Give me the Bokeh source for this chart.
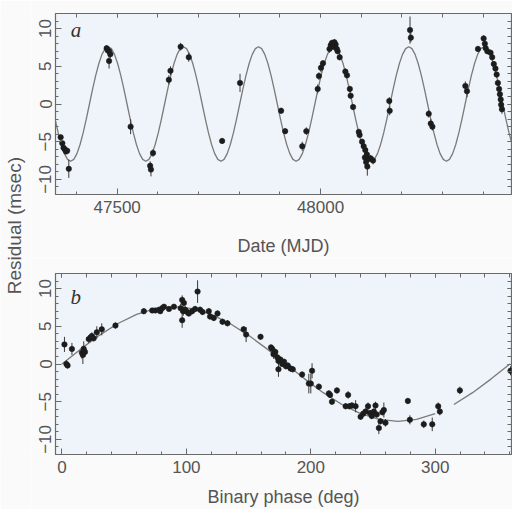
from bokeh.plotting import figure
from bokeh.models import (LinearAxis, Range1d, FixedTicker, Label, GridBox)
from bokeh.embed import file_html
from bokeh.resources import INLINE

# ---------------- data ----------------
# panel a: timing residual vs date
mjd_a = [47361, 47365, 47368, 47371, 47374, 47377, 47381,
         47474, 47477, 47480, 47483, 47480, 47533,
         47581, 47583, 47588, 47627, 47631, 47656, 47676,
         47758, 47802, 47903, 47913, 47955, 47965, 47993, 47996, 48001, 48006,
         48022, 48025, 48028, 48031, 48034, 48037, 48040, 48042, 48047,
         48061, 48065, 48072, 48074, 48080, 48094, 48096,
         48102, 48106, 48110, 48114, 48109, 48118, 48112, 48115, 48123, 48129,
         48169, 48170, 48220, 48222, 48266, 48271, 48275,
         48356, 48360, 48387, 48401, 48404, 48406, 48410, 48418, 48422,
         48426, 48430, 48433, 48436, 48439, 48441, 48443, 48444, 48446]
res_a = [-4.4, -5.2, -5.8, -6.0, -6.3, -6.2, -8.6,
         7.4, 7.1, 7.0, 6.6, 5.7, -3.0,
         -8.2, -8.7, -6.5, 3.2, 4.4, 7.6, 6.2,
         -4.9, 2.8, -0.9, -3.6, -5.6, -3.6, 2.0, 3.7, 4.8, 5.4,
         7.3, 7.8, 8.1, 7.6, 8.2, 7.9, 7.3, 7.0, 6.2,
         4.3, 3.8, 2.0, 1.1, -0.4, -3.7, -4.1,
         -5.0, -5.6, -6.1, -6.7, -7.1, -7.3, -7.7, -8.3, -7.2, -7.5,
         0.4, -0.9, 9.8, 8.8, -1.3, -2.6, -3.0,
         2.4, 1.7, 7.3, 8.7, 8.0, 7.4, 7.0, 6.8, 6.2,
         5.3, 4.7, 3.9, 2.8, 2.0, 1.3, 0.6, -0.1, -0.7]
err_a = [0, 0, 0, 0, 0, 0, 1.2,
         0.4, 0.4, 0.5, 0.5, 1.0, 1.0,
         0.6, 0.9, 0.5, 0.6, 0.6, 0.5, 0.6,
         0.4, 1.2, 0.4, 0.4, 0.6, 0.5, 0.6, 0.5, 0.6, 0.4,
         0.5, 0.4, 0.4, 0.4, 0.4, 0.4, 0.4, 0.4, 0.4,
         0.4, 0.4, 0.4, 0.4, 0.4, 0.4, 0.4,
         0.4, 0.4, 0.4, 0.5, 0.5, 0.4, 0.5, 1.2, 0.4, 0.5,
         0.5, 0.6, 1.8, 0.6, 0.5, 0.6, 0.5,
         0.6, 0.8, 0.4, 0.4, 0.4, 0.4, 0.4, 0.4, 0.4,
         0.4, 0.4, 0.4, 0.4, 0.5, 0.5, 0.5, 0.5, 0.6]

# panel b: residual vs binary phase
phase_b = [2.0, 3.6, 4.5, 8.0, 16.0, 16.8, 17.5, 18.5, 21.5, 23.0, 24.0, 25.5,
           28.0, 32.0, 43.0, 65.8, 72.5, 75.0, 78.0, 79.0, 80.5, 82.0, 86.0,
           90.0, 95.4, 96.6, 97.5, 98.0, 99.0, 96.6, 100.6, 102.0, 104.6,
           107.0, 109.0, 111.0, 113.0, 118.0, 119.0, 122.0, 125.0, 129.0,
           133.0, 146.0, 148.0, 159.6, 168.0, 169.0, 170.0, 171.5, 173.0,
           174.0, 174.0, 175.5, 177.0, 178.5, 180.0, 181.5, 183.7, 185.5,
           193.0, 198.4, 200.0, 201.0, 206.5, 214.5, 215.5, 217.0, 221.0,
           228.0, 230.0, 231.0, 233.0, 236.0, 240.0, 242.0, 244.0, 246.0,
           247.5, 249.0, 250.7, 252.0, 253.0, 254.7, 256.0, 257.5, 258.7,
           260.0, 278.0, 279.6, 290.8, 297.6, 302.4, 303.7, 319.8, 360.5]
res_b = [2.6, 0.0, -0.2, 2.0, 1.5, 1.2, 2.0, 1.6, 3.3, 3.5, 3.7, 3.4,
         4.2, 4.6, 5.1, 7.0, 7.1, 7.1, 7.2, 7.0, 7.4, 7.6, 7.3,
         7.6, 7.4, 8.5, 7.0, 8.1, 7.2, 5.8, 6.9, 6.7, 7.0,
         7.3, 9.6, 7.2, 6.9, 7.0, 6.3, 6.1, 6.7, 5.6,
         5.4, 4.6, 3.9, 3.6, 2.2, 2.0, 1.3, 1.6, 0.9,
         0.4, -0.7, 0.6, 0.0, 0.3, -0.3, -0.2, -0.6, -0.7,
         -1.4, -2.6, -2.6, -0.9, -3.0, -3.9, -4.1, -5.0, -3.5,
         -5.6, -4.1, -5.6, -5.5, -5.6, -7.0, -6.6, -6.3, -5.6,
         -6.5, -6.9, -6.3, -5.5, -6.7, -8.5, -7.6, -6.4, -6.1,
         -7.8, -4.9, -7.4, -8.0, -8.0, -5.6, -6.3, -3.5, -0.9]
err_b = [1.0, 0.5, 0.4, 0.8, 0.8, 1.2, 1.0, 0.6, 0.5, 0.5, 0.5, 0.4,
         0.8, 0.8, 0.4, 0.4, 0.3, 0.3, 0.3, 0.3, 0.3, 0.3, 0.3,
         0.3, 0.6, 0.6, 0.6, 0.5, 0.5, 1.0, 0.5, 0.4, 0.4,
         0.4, 1.5, 0.4, 0.4, 0.4, 0.4, 0.4, 0.4, 0.4,
         0.4, 0.4, 1.0, 0.4, 0.4, 0.5, 0.6, 0.4, 0.4,
         0.4, 1.0, 0.4, 0.4, 0.4, 0.4, 0.4, 0.4, 0.4,
         0.4, 1.3, 1.3, 1.0, 0.4, 0.4, 0.4, 0.4, 0.4,
         0.4, 0.5, 0.4, 0.4, 0.8, 0.4, 0.4, 0.4, 0.5,
         0.4, 0.4, 0.4, 0.5, 0.4, 0.8, 0.4, 0.4, 1.0,
         0.5, 0.4, 0.6, 0.5, 0.9, 0.5, 0.5, 0.5, 0.6]

# fitted orbit curve: one cycle (phase in deg -> residual)
curve_phase = [0, 15, 30, 45, 60, 75, 90, 105, 120, 135, 150, 165, 180,
               195, 210, 225, 240, 255, 270, 285, 300, 315, 330, 345, 360]
curve_val = [0.0, 1.97, 3.80, 5.37, 6.58, 7.34, 7.60, 7.34, 6.58, 5.37, 3.80,
             1.97, 0.0, -1.97, -3.80, -5.37, -6.58, -7.34, -7.60, -7.34,
             -6.58, -5.37, -3.80, -1.97, 0.0]
period_days = 184.75       # orbital period
phase0_mjd = 47431.8       # date of phase 0 (rising zero crossing)
cycles_a = [-1, 0, 1, 2, 3, 4, 5]
gap_b = (300, 315)         # the drawn curve in panel b is broken here

xticks_a = [47500, 48000]
xminor_a = list(range(47300, 48600, 100))
xticks_b = [0, 100, 200, 300]
xminor_b = list(range(-20, 380, 20))
yticks = [-10, -5, 0, 5, 10]
yminor = list(range(-12, 13, 1))
ylabel_over = {-10: "\u221210", -5: "\u22125"}

# ---------------- style ----------------
FONT = "Liberation Sans"
INK = "#555555"
FRAME = "#6a6a6a"
PANEL_BG = "#eef4f9"
PAGE_BG = "#fafafa"
DOT = "#1c1c1c"
CURVE = "#7a7a7a"


def style_axis(ax):
    ax.axis_line_color = None
    ax.major_tick_in = 6
    ax.major_tick_out = 0
    ax.minor_tick_in = 3
    ax.minor_tick_out = 0
    ax.major_tick_line_color = FRAME
    ax.minor_tick_line_color = FRAME
    ax.major_tick_line_width = 1
    ax.minor_tick_line_width = 1
    ax.major_label_text_font = FONT
    ax.major_label_text_color = INK
    ax.major_label_text_font_size = "17px"
    ax.axis_label_text_font = FONT
    ax.axis_label_text_font_style = "normal"
    ax.axis_label_text_color = INK
    ax.axis_label_text_font_size = "18px"


def tick_only_axis(majors, minors):
    # opposite-side axis: tick marks only, no labels at all
    ax = LinearAxis(ticker=FixedTicker(ticks=[], minor_ticks=majors + minors))
    ax.axis_line_color = None
    ax.minor_tick_in = 4
    ax.minor_tick_out = 0
    ax.minor_tick_line_color = FRAME
    ax.major_label_standoff = 0
    return ax


def panel(xr, height, mbt, mbb, xt, xm, xlabel, lab_std, ax_std):
    p = figure(width=482, height=height, x_range=Range1d(*xr),
               y_range=Range1d(-12, 12), toolbar_location=None,
               output_backend="svg", x_axis_location=None,
               y_axis_location=None, min_border_left=25,
               min_border_right=1, min_border_top=mbt,
               min_border_bottom=mbb)
    p.background_fill_color = PANEL_BG
    p.border_fill_color = PAGE_BG
    p.outline_line_color = FRAME
    p.outline_line_width = 1.2
    p.xgrid.visible = False
    p.ygrid.visible = False
    xtk = FixedTicker(ticks=xt, minor_ticks=xm)
    ytk = FixedTicker(ticks=yticks, minor_ticks=yminor)

    b = LinearAxis(ticker=xtk, axis_label=xlabel)
    style_axis(b)
    b.major_label_standoff = lab_std
    b.axis_label_standoff = ax_std
    p.add_layout(b, "below")

    p.add_layout(tick_only_axis(xt, xm), "above")

    l = LinearAxis(ticker=ytk)
    style_axis(l)
    l.major_label_orientation = "vertical"
    l.major_label_standoff = 4
    l.major_label_overrides = ylabel_over
    p.add_layout(l, "left")

    p.add_layout(tick_only_axis(yticks, yminor), "right")
    return p


def draw_points(p, x, y, e):
    xs = [xi for xi, ei in zip(x, e) if ei > 0]
    lo = [yi - ei for yi, ei in zip(y, e) if ei > 0]
    hi = [yi + ei for yi, ei in zip(y, e) if ei > 0]
    p.segment(x0=xs, y0=lo, x1=xs, y1=hi, line_color="#3a3a3a",
              line_width=1)
    p.scatter(x=x, y=y, size=5.5, fill_color=DOT, line_color=DOT,
              line_width=0.5)


# ---------------- panel a ----------------
pa = panel((47348.3, 48469.5), 258, 13, 61, xticks_a, xminor_a,
           "Date (MJD)", 6, 20)
ca_x, ca_y = [], []
for k in cycles_a:
    for ph, v in zip(curve_phase, curve_val):
        ca_x.append(phase0_mjd + (k + ph / 360.0) * period_days)
        ca_y.append(v)
pa.line(ca_x, ca_y, line_color=CURVE, line_width=1.3)
draw_points(pa, mjd_a, res_a, err_a)
pa.add_layout(Label(x=47386, y=9.8, text="a", text_font="Liberation Serif",
                    text_font_style="italic", text_font_size="21px",
                    text_color="#333333", text_align="left",
                    text_baseline="alphabetic"))

# ---------------- panel b ----------------
pb = panel((-5.2, 361.3), 251, 15, 52, xticks_b, xminor_b,
           "Binary phase (deg)", 6, 11)
seg1 = [(ph, v) for ph, v in zip(curve_phase, curve_val) if ph <= gap_b[0]]
seg2 = [(ph, v) for ph, v in zip(curve_phase, curve_val) if ph >= gap_b[1]]
pb.multi_line(xs=[[s[0] for s in seg1], [s[0] for s in seg2]],
              ys=[[s[1] for s in seg1], [s[1] for s in seg2]],
              line_color=CURVE, line_width=1.3)
draw_points(pb, phase_b, res_b, err_b)
pb.add_layout(Label(x=6.8, y=8.9, text="b", text_font="Liberation Serif",
                    text_font_style="italic", text_font_size="21px",
                    text_color="#333333", text_align="left",
                    text_baseline="alphabetic"))

# ---------------- shared y label ----------------
pl = figure(width=30, height=509, x_range=Range1d(0, 1),
            y_range=Range1d(0, 1), toolbar_location=None,
            output_backend="svg", min_border=0,
            x_axis_location=None, y_axis_location=None)
pl.grid.visible = False
pl.outline_line_color = None
pl.background_fill_color = PAGE_BG
pl.border_fill_color = PAGE_BG
pl.add_layout(Label(x=0.483, y=0.519, text="Residual (msec)", angle=1.5708,
                    text_font=FONT, text_font_size="19px", text_color=INK,
                    text_align="center", text_baseline="middle"))

layout = GridBox(children=[(pl, 0, 0, 2, 1), (pa, 0, 1), (pb, 1, 1)])

open("out.html", "w").write(file_html(layout, INLINE))
